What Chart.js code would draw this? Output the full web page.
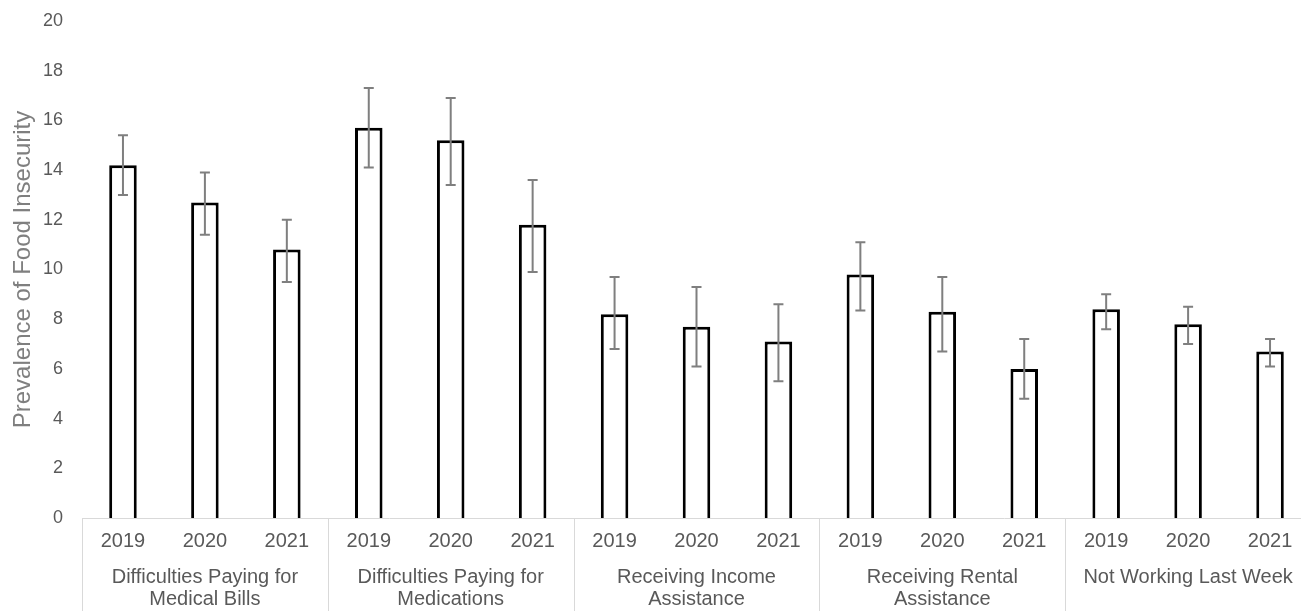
<!DOCTYPE html>
<html>
<head>
<meta charset="utf-8">
<script src="https://cdn.jsdelivr.net/npm/chart.js@4.4.1/dist/chart.umd.min.js"></script>
<style>
  html, body { margin: 0; padding: 0; background: #fff; overflow: hidden; }
  /* plot runs slightly past the right edge of the window, as in the reference */
  #wrap { width: 1311px; height: 611px; position: relative; }
</style>
</head>
<body>
<div id="wrap"><canvas id="foodChart"></canvas></div>
<script>
// --- data ---
const groups = [
    ['Difficulties Paying for', 'Medical Bills'],
    ['Difficulties Paying for', 'Medications'],
    ['Receiving Income', 'Assistance'],
    ['Receiving Rental', 'Assistance'],
    ['Not Working Last Week']
];
const years = ['2019', '2020', '2021'];
const prevalence = [14.2, 12.7, 10.8, 15.7, 15.2, 11.8, 8.2, 7.7, 7.1, 9.8, 8.3, 6.0, 8.4, 7.8, 6.7];
const ciLow = [13.0, 11.4, 9.5, 14.1, 13.4, 9.9, 6.8, 6.1, 5.5, 8.35, 6.7, 4.8, 7.6, 7.0, 6.1];
const ciHigh = [15.4, 13.9, 12.0, 17.3, 16.9, 13.6, 9.7, 9.3, 8.6, 11.1, 9.7, 7.2, 9.0, 8.5, 7.2];
const yTicks = [0, 2, 4, 6, 8, 10, 12, 14, 16, 18, 20];

const yearLabels = groups.flatMap(() => years);
const textGrey = '#595959';

// error bars drawn on top of the bars
const errorBars = {
    id: 'errorBars',
    afterDatasetsDraw(chart) {
        const meta = chart.getDatasetMeta(0);
        const y = chart.scales.y;
        const c = chart.ctx;
        c.save();
        c.strokeStyle = '#7f7f7f';
        c.lineWidth = 2;
        meta.data.forEach((bar, i) => {
            const yl = y.getPixelForValue(ciLow[i]);
            const yh = y.getPixelForValue(ciHigh[i]);
            c.beginPath();
            c.moveTo(bar.x, yl); c.lineTo(bar.x, yh);
            c.moveTo(bar.x - 5, yl); c.lineTo(bar.x + 5, yl);
            c.moveTo(bar.x - 5, yh); c.lineTo(bar.x + 5, yh);
            c.stroke();
        });
        c.restore();
    }
};

// light grey separators between the category groups
const groupLines = {
    id: 'groupLines',
    afterDraw(chart) {
        const x = chart.scales.x;
        const half = (x.getPixelForValue(1) - x.getPixelForValue(0)) / 2;
        const c = chart.ctx;
        c.save();
        c.strokeStyle = '#d9d9d9';
        c.lineWidth = 1;
        for (let k = 0; k <= groups.length; k++) {
            const px = Math.round(x.getPixelForValue(k * years.length) - half) + 0.5;
            c.beginPath();
            c.moveTo(px, chart.chartArea.bottom);
            c.lineTo(px, chart.height);
            c.stroke();
        }
        c.restore();
    }
};

new Chart(document.getElementById('foodChart'), {
    type: 'bar',
    data: {
        labels: yearLabels,
        datasets: [{
            data: prevalence,
            backgroundColor: '#ffffff',
            borderColor: '#000000',
            borderWidth: 3,
            categoryPercentage: 1,
            barPercentage: 0.336
        }]
    },
    options: {
        responsive: true,
        maintainAspectRatio: false,
        animation: false,
        layout: { padding: { top: 21, right: 0, bottom: 0, left: 0 } },
        plugins: { legend: { display: false }, tooltip: { enabled: false } },
        scales: {
            x: {
                weight: 1,
                grid: { display: false, drawTicks: false },
                border: { display: true, color: '#d9d9d9', width: 1 },
                ticks: { color: textGrey, font: { family: 'Liberation Sans', size: 20 }, padding: 11, autoSkip: false, maxRotation: 0 },
                afterFit: s => { s.height = 40; }
            },
            x2: {
                type: 'category',
                position: 'bottom',
                weight: 2,
                labels: groups,
                offset: true,
                grid: { display: false, drawTicks: false },
                border: { display: false },
                ticks: { color: textGrey, font: { family: 'Liberation Sans', size: 20, lineHeight: 1.13 }, padding: 8, autoSkip: false, maxRotation: 0 },
                afterFit: s => { s.height = 53; }
            },
            y: {
                min: 0,
                max: 20,
                afterBuildTicks: s => { s.ticks = yTicks.map(v => ({ value: v })); },
                grid: { display: false, drawTicks: false },
                border: { display: false },
                ticks: { color: textGrey, font: { family: 'Liberation Sans', size: 18 }, padding: 19 },
                title: {
                    display: true,
                    text: 'Prevalence of Food Insecurity',
                    color: '#7f7f7f',
                    font: { family: 'Liberation Sans', size: 24 },
                    padding: { top: 9, bottom: 0 }
                },
                afterFit: s => { s.width = 82; s.paddingTop = 0; s.paddingBottom = 0; }
            }
        }
    },
    plugins: [errorBars, groupLines]
});
</script>
</body>
</html>
